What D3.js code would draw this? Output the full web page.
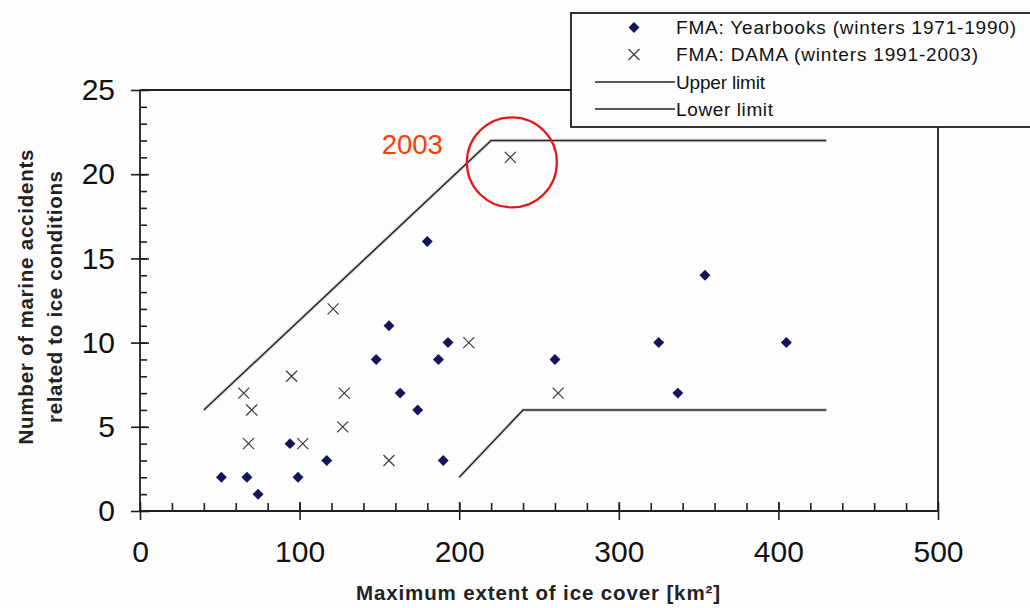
<!DOCTYPE html>
<html>
<head>
<meta charset="utf-8">
<script src="https://cdn.jsdelivr.net/npm/d3@7"></script>
<style>
    body { margin: 0; background: #fdfdfd; }
    #chart-area svg { display: block; font-family: "Liberation Sans", Arial, sans-serif; }
    .axis path { display: none; }
    .axis line { stroke: #1e1e1e; stroke-width: 1.6; }
    .axis text { font-size: 30px; fill: #111; }
    .frame { stroke: #1e1e1e; stroke-width: 1.8; fill: none; }
    .limit-line { fill: none; stroke: #222; stroke-width: 1.5; }
    .limit-halo { fill: none; stroke: #cfcfcf; stroke-width: 4; opacity: 0.6; }
    .yearbook-point { fill: #14145a; }
    .dama-point { fill: none; stroke: #3a3a3a; stroke-width: 1.2; }
    .axis-title { font-weight: bold; font-size: 20.5px; fill: #222; }
    .legend-text { font-size: 19px; fill: #111; }
</style>
</head>
<body>
<div id="chart-area"></div>
<script>

// FMA yearbooks, winters 1971-1990
var yearbookExtent = [51, 67, 74, 94, 99, 117, 148, 156, 163, 174, 180, 187, 190, 193, 260, 325, 337, 354, 405];
var yearbookAccidents = [2, 2, 1, 4, 2, 3, 9, 11, 7, 6, 16, 9, 3, 10, 9, 10, 7, 14, 10];

// FMA DAMA, winters 1991-2003
var damaExtent = [65, 68, 70, 95, 102, 121, 127, 128, 156, 206, 232, 262];
var damaAccidents = [7, 4, 6, 8, 4, 12, 5, 7, 3, 10, 21, 7];

// limit lines
var upperExtent = [40, 220, 430];
var upperAccidents = [6, 22, 22];
var lowerExtent = [200, 240, 430];
var lowerAccidents = [2, 6, 6];

var xTickValues = [0, 100, 200, 300, 400, 500];
var yTickValues = [0, 5, 10, 15, 20, 25];

var legendLabels = ["FMA: Yearbooks (winters 1971-1990)", "FMA: DAMA (winters 1991-2003)", "Upper limit", "Lower limit"];
var legendWidths = [340, 302, 89, 97];

// the highlighted 2003 winter
var highlightLabel = "2003";
var highlightPoint = [233, 20.7];


ScatterChart = function(_parentElement) {
    this.parentElement = _parentElement;

    this.yearbook = yearbookExtent.map(function(d, i) { return {x: d, y: yearbookAccidents[i]}; });
    this.dama = damaExtent.map(function(d, i) { return {x: d, y: damaAccidents[i]}; });
    this.upper = upperExtent.map(function(d, i) { return {x: d, y: upperAccidents[i]}; });
    this.lower = lowerExtent.map(function(d, i) { return {x: d, y: lowerAccidents[i]}; });

    this.initVis();
};

ScatterChart.prototype.initVis = function() {
    var vis = this;
    vis.margin = {top: 90, right: 92, bottom: 97, left: 140};

    vis.width = 1030 - vis.margin.left - vis.margin.right;
    vis.height = 608 - vis.margin.top - vis.margin.bottom;

    vis.root = d3.select("#" + vis.parentElement).append("svg")
        .attr("width", 1030)
        .attr("height", 608);

    vis.svg = vis.root.append("g")
        .attr("transform", "translate(" + vis.margin.left + "," + vis.margin.top + ")");

    vis.xScale = d3.scaleLinear()
        .range([0, vis.width])
        .domain([0, 500]);

    vis.yScale = d3.scaleLinear()
        .range([vis.height, 0])
        .domain([0, 25]);

    // frame (top and right)
    vis.svg.append("path")
        .attr("class", "frame")
        .attr("d", "M0," + vis.yScale(25) + "H" + vis.xScale(500) + "V" + vis.yScale(0));

    // minor ticks
    vis.svg.append("g")
        .attr("class", "axis")
        .attr("transform", "translate(0," + vis.height + ")")
        .call(d3.axisBottom(vis.xScale).tickValues(d3.range(20, 500, 20)).tickSize(-8).tickFormat(""));

    vis.svg.append("g")
        .attr("class", "axis")
        .call(d3.axisLeft(vis.yScale).tickValues(d3.range(1, 25, 1)).tickSize(-7).tickFormat(""));

    // major ticks crossing the axis
    vis.xAxis = vis.svg.append("g")
        .attr("class", "axis")
        .attr("transform", "translate(0," + vis.height + ")")
        .call(d3.axisBottom(vis.xScale).tickValues(xTickValues).tickSize(9));
    vis.xAxis.selectAll("line").attr("y1", -9);
    vis.xAxis.selectAll("text").attr("y", 51).attr("dy", null);

    vis.yAxis = vis.svg.append("g")
        .attr("class", "axis")
        .call(d3.axisLeft(vis.yScale).tickValues(yTickValues).tickSize(9).tickPadding(16));
    vis.yAxis.selectAll("line").attr("x1", 9);

    // axis lines
    vis.svg.append("line")
        .attr("class", "frame")
        .attr("x1", 0).attr("x2", vis.xScale(500))
        .attr("y1", vis.yScale(0)).attr("y2", vis.yScale(0));
    vis.svg.append("line")
        .attr("class", "frame")
        .attr("x1", 0).attr("x2", 0)
        .attr("y1", vis.yScale(25)).attr("y2", vis.yScale(0));

    // axis titles
    vis.root.append("text")
        .attr("class", "axis-title")
        .attr("x", 538)
        .attr("y", 600)
        .attr("text-anchor", "middle")
        .attr("textLength", 364)
        .attr("lengthAdjust", "spacing")
        .text("Maximum extent of ice cover [km\u00b2]");

    var yTitle = vis.root.append("g")
        .attr("transform", "translate(0,297) rotate(-90)");
    yTitle.append("text")
        .attr("class", "axis-title")
        .attr("y", 33)
        .attr("text-anchor", "middle")
        .attr("textLength", 295)
        .attr("lengthAdjust", "spacing")
        .text("Number of marine accidents");
    yTitle.append("text")
        .attr("class", "axis-title")
        .attr("y", 62)
        .attr("text-anchor", "middle")
        .attr("textLength", 252)
        .attr("lengthAdjust", "spacing")
        .text("related to ice conditions");

    vis.line = d3.line()
        .x(function(d) { return vis.xScale(d.x); })
        .y(function(d) { return vis.yScale(d.y); })
        .curve(d3.curveLinear);

    vis.diamond = d3.symbol().type(d3.symbolSquare).size(60);

    vis.updateChart();
    vis.drawLegend();
};

ScatterChart.prototype.updateChart = function() {
    var vis = this;

    [vis.upper, vis.lower].forEach(function(limit) {
        vis.svg.append("path")
            .datum(limit)
            .attr("class", "limit-halo")
            .attr("d", vis.line);
        vis.svg.append("path")
            .datum(limit)
            .attr("class", "limit-line")
            .attr("d", vis.line);
    });

    vis.svg.selectAll(".yearbook-point")
        .data(vis.yearbook)
        .enter().append("path")
        .attr("class", "yearbook-point")
        .attr("d", vis.diamond)
        .attr("transform", function(d) {
            return "translate(" + vis.xScale(d.x) + "," + vis.yScale(d.y) + ") rotate(45)";
        });

    vis.svg.selectAll(".dama-point")
        .data(vis.dama)
        .enter().append("path")
        .attr("class", "dama-point")
        .attr("d", "M-5.5,-5.5L5.5,5.5M-5.5,5.5L5.5,-5.5")
        .attr("transform", function(d) {
            return "translate(" + vis.xScale(d.x) + "," + vis.yScale(d.y) + ")";
        });

    // 2003 highlight
    var cx = vis.xScale(highlightPoint[0]),
        cy = vis.yScale(highlightPoint[1]);
    vis.svg.append("circle")
        .attr("cx", cx)
        .attr("cy", cy)
        .attr("r", 45)
        .attr("fill", "none")
        .attr("stroke", "#e8141a")
        .attr("stroke-width", 2.2);
    vis.svg.append("text")
        .attr("x", cx - 69)
        .attr("y", cy - 8)
        .attr("text-anchor", "end")
        .attr("font-size", 27.5)
        .attr("fill", "#ff3a06")
        .text(highlightLabel);
};

ScatterChart.prototype.drawLegend = function() {
    var vis = this;

    var legend = vis.root.append("g")
        .attr("transform", "translate(571,13)");

    legend.append("rect")
        .attr("width", 480)
        .attr("height", 114)
        .attr("fill", "#fdfdfd")
        .attr("stroke", "#1e1e1e")
        .attr("stroke-width", 1.8);

    var rows = [14.5, 41.5, 69, 96];

    legend.append("path")
        .attr("class", "yearbook-point")
        .attr("d", vis.diamond)
        .attr("transform", "translate(63," + rows[0] + ") rotate(45)");
    legend.append("path")
        .attr("class", "dama-point")
        .attr("d", "M-5.5,-5.5L5.5,5.5M-5.5,5.5L5.5,-5.5")
        .attr("transform", "translate(63," + rows[1] + ")");
    [2, 3].forEach(function(i) {
        legend.append("line")
            .attr("class", "limit-line")
            .attr("x1", 24).attr("x2", 104)
            .attr("y1", rows[i]).attr("y2", rows[i]);
    });

    legend.selectAll(".legend-text")
        .data(legendLabels)
        .enter().append("text")
        .attr("class", "legend-text")
        .attr("x", 105)
        .attr("y", function(d, i) { return rows[i]; })
        .attr("dy", "0.36em")
        .attr("textLength", function(d, i) { return legendWidths[i]; })
        .attr("lengthAdjust", "spacing")
        .text(function(d) { return d; });
};

var chart = new ScatterChart("chart-area");

</script>
</body>
</html>
